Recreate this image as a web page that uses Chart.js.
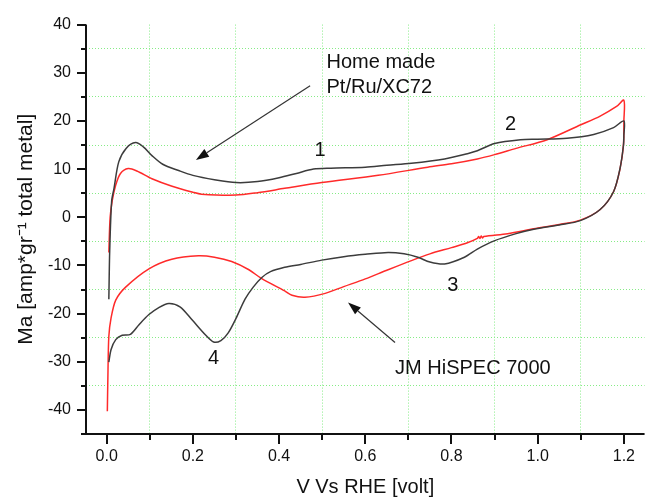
<!DOCTYPE html>
<html>
<head>
<meta charset="utf-8">
<script src="https://cdn.jsdelivr.net/npm/chart.js@4.4.1/dist/chart.umd.min.js"></script>
<style>
html,body{margin:0;padding:0;background:#fff;}
#wrap{width:648px;height:499px;position:relative;}
</style>
</head>
<body>
<div id="wrap"><canvas id="c" width="648" height="499"></canvas></div>
<script>
// ---- Data ----
// Home made Pt/Ru/XC72 (black): anodic sweep then cathodic sweep
const homeMadeV = [0.005,0.007,0.0115,0.017,0.028,0.045,0.067,0.085,0.105,0.13,0.167,0.2,0.25,0.3,0.35,0.4,0.44,0.48,0.52,0.6,0.65,0.707,0.784,0.837,0.86,0.9,0.96,1.0,1.068,1.13,1.176,1.2,
  1.2,1.199,1.191,1.176,1.145,1.099,1.05,0.991,0.95,0.899,0.86,0.83,0.784,0.75,0.722,0.69,0.653,0.6,0.55,0.499,0.45,0.413,0.38,0.36,0.34,0.321,0.3,0.282,0.265,0.248,0.23,0.198,0.17,0.144,0.12,0.098,0.075,0.055,0.036,0.021,0.01,0.005];
const homeMadeI = [-17,-7,3.3,6,11.5,14.3,15.5,14.6,12.8,11.0,9.7,8.7,7.8,7.2,7.4,8.2,9.1,10.0,10.2,10.4,10.8,11.2,12.1,13.2,13.8,15.3,16.1,16.2,16.4,17.2,18.6,20,
  17,14.9,10.1,5.3,1.6,-0.7,-1.6,-2.5,-3.4,-4.9,-6.6,-8.3,-9.7,-9.3,-8.3,-7.6,-7.3,-7.7,-8.2,-8.9,-9.8,-10.4,-11.3,-12.5,-14.5,-17.0,-21,-24,-25.6,-25.9,-24.5,-21.3,-18.6,-17.9,-18.8,-20.2,-22.3,-24.3,-24.5,-25.4,-27.5,-30.1];
// JM HiSPEC 7000 (red)
const jmV = [0.005,0.008,0.013,0.021,0.032,0.05,0.07,0.105,0.15,0.2,0.22,0.3,0.35,0.413,0.499,0.63,0.745,0.8,0.86,0.9,0.95,1.022,1.1,1.145,1.183,1.2,
  1.2,1.199,1.191,1.176,1.145,1.099,1.05,0.991,0.93,0.875,0.872,0.869,0.866,0.863,0.86,0.837,0.8,0.75,0.707,0.65,0.6,0.55,0.507,0.46,0.43,0.413,0.359,0.33,0.29,0.25,0.213,0.151,0.098,0.044,0.021,0.01,0.005,0.003,0.0015];
const jmI = [-7.3,0,3.5,6.7,9.1,10.1,9.6,8.0,6.5,5.2,4.8,4.6,5.1,6.0,7.2,8.7,10.4,11.1,12.1,13.0,14.3,16.1,19.2,21,23,24.3,
  20,15,10,5.3,1.6,-0.6,-1.5,-2.4,-3.4,-4.0,-4.3,-3.9,-4.4,-4.0,-4.4,-5.3,-6.3,-7.6,-9.0,-11,-12.8,-14.4,-15.8,-16.6,-16.2,-15.3,-12.7,-10.9,-9.2,-8.3,-8.0,-8.7,-10.7,-14.5,-17.2,-21,-24.7,-32,-40.3];

// ---- Axis ticks ----
const xTicks = [0,0.1,0.2,0.3,0.4,0.5,0.6,0.7,0.8,0.9,1.0,1.1,1.2];
const xTickLabels = ['0.0','','0.2','','0.4','','0.6','','0.8','','1.0','','1.2'];
const yTicks = [-40,-35,-30,-25,-20,-15,-10,-5,0,5,10,15,20,25,30,35,40];
const yTickLabels = ['-40','','-30','','-20','','-10','','0','','10','','20','','30','','40'];

// ---- Annotations ----
const noteTexts = ['Home made','Pt/Ru/XC72','JM HiSPEC 7000','1','2','3','4'];
const noteX = [0.51,0.51,0.669,0.495,0.937,0.803,0.248];
const noteY = [32.1,27.0,-31.3,13.8,19.3,-14.1,-29.4];
const arrowFromX = [0.472,0.669];
const arrowFromY = [27.3,-26.0];
const arrowToX = [0.207,0.56];
const arrowToY = [11.9,-17.7];

const FONT = '"Liberation Sans", Arial, Helvetica, sans-serif';
const GRID_GREEN = '#86ec86';

function pts(xs, ys){ return xs.map((x,i)=>({x:x,y:ys[i]})); }
function isMajorX(v){ return Math.round(v*10)%2===0; }
function isMajorY(v){ return Math.round(v)%10===0; }

const decor = {
  id:'decor',
  afterDatasetsDraw(chart){
    const ctx = chart.ctx, xs = chart.scales.x, ys = chart.scales.y, a = chart.chartArea;
    ctx.save();
    ctx.strokeStyle = '#111';
    ctx.lineWidth = 2;
    ctx.beginPath();
    ctx.moveTo(a.left, a.top);
    ctx.lineTo(a.left, a.bottom);
    ctx.moveTo(a.left-5, a.bottom);
    ctx.lineTo(a.right, a.bottom);
    ctx.stroke();
    ctx.beginPath();
    xTicks.forEach(v=>{
      const px = Math.round(xs.getPixelForValue(v));
      const len = isMajorX(v) ? 10 : 6;
      ctx.moveTo(px, a.bottom);
      ctx.lineTo(px, a.bottom+len);
    });
    yTicks.forEach(v=>{
      const py = Math.round(ys.getPixelForValue(v));
      const len = isMajorY(v) ? 9 : 5;
      ctx.moveTo(a.left, py);
      ctx.lineTo(a.left-len, py);
    });
    ctx.stroke();
    ctx.restore();
  },
  afterDraw(chart){
    const ctx = chart.ctx, xs = chart.scales.x, ys = chart.scales.y;
    ctx.save();
    ctx.strokeStyle = '#333';
    ctx.fillStyle = '#111';
    ctx.lineWidth = 1.2;
    arrowFromX.forEach((fx,i)=>{
      const x1 = xs.getPixelForValue(fx), y1 = ys.getPixelForValue(arrowFromY[i]);
      const x2 = xs.getPixelForValue(arrowToX[i]), y2 = ys.getPixelForValue(arrowToY[i]);
      const ang = Math.atan2(y2-y1, x2-x1);
      const hl = 13, hw = 4.5;
      const bx = x2 - hl*Math.cos(ang), by = y2 - hl*Math.sin(ang);
      ctx.beginPath();
      ctx.moveTo(x1,y1); ctx.lineTo(bx,by); ctx.stroke();
      ctx.beginPath();
      ctx.moveTo(x2,y2);
      ctx.lineTo(bx + hw*Math.sin(ang), by - hw*Math.cos(ang));
      ctx.lineTo(bx - hw*Math.sin(ang), by + hw*Math.cos(ang));
      ctx.closePath(); ctx.fill();
    });
    ctx.fillStyle = '#111';
    ctx.font = '20px ' + FONT;
    ctx.textBaseline = 'middle';
    noteTexts.forEach((t,i)=>{
      ctx.textAlign = t.length === 1 ? 'center' : 'left';
      ctx.fillText(t, xs.getPixelForValue(noteX[i]), ys.getPixelForValue(noteY[i]));
    });
    ctx.restore();
  }
};

new Chart(document.getElementById('c'), {
  type:'scatter',
  data:{
    datasets:[
      {label:'Home made Pt/Ru/XC72', data:pts(homeMadeV, homeMadeI), showLine:true, borderColor:'#3c3c3c', backgroundColor:'#3c3c3c', borderWidth:1.5, pointRadius:0, tension:0.3, fill:false},
      {label:'JM HiSPEC 7000', data:pts(jmV, jmI), showLine:true, borderColor:'#ff2a2a', backgroundColor:'#ff2a2a', borderWidth:1.5, pointRadius:0, tension:0.3, fill:false}
    ]
  },
  options:{
    responsive:false,
    animation:false,
    devicePixelRatio:1,
    layout:{padding:{top:19,left:0,right:0,bottom:0}},
    plugins:{legend:{display:false}, tooltip:{enabled:false}},
    scales:{
      x:{
        type:'linear', min:-0.048, max:1.248,
        afterBuildTicks(s){ s.ticks = xTicks.map(v=>({value:v})); },
        afterFit(s){ s.height = 65; },
        ticks:{autoSkip:false, maxRotation:0, minRotation:0, padding:13, color:'#111',
          font:{size:16, family:FONT},
          callback(v){ const k = xTicks.findIndex(t=>Math.abs(t-v)<1e-6); return k>=0 ? xTickLabels[k] : ''; }},
        grid:{drawTicks:false, lineWidth:1,
          color(c){ return (c.tick && !isMajorX(c.tick.value)) ? GRID_GREEN : 'rgba(0,0,0,0)'; }},
        border:{display:false, dash:[1,2]},
        title:{display:true, text:'V Vs RHE [volt]', color:'#111', font:{size:20, family:FONT}, padding:{top:0,bottom:0}}
      },
      y:{
        type:'linear', min:-45, max:40,
        afterBuildTicks(s){ s.ticks = yTicks.map(v=>({value:v})); },
        afterFit(s){ s.width = 86; },
        ticks:{autoSkip:false, padding:15, color:'#111',
          font:{size:16, family:FONT},
          callback(v){ const k = yTicks.findIndex(t=>Math.abs(t-v)<1e-6); return k>=0 ? yTickLabels[k] : ''; }},
        grid:{drawTicks:false, lineWidth:1,
          color(c){ return (c.tick && !isMajorY(c.tick.value)) ? GRID_GREEN : 'rgba(0,0,0,0)'; }},
        border:{display:false, dash:[1,2]},
        title:{display:true, text:'Ma [amp*gr\u207B\u00B9 total metal]', color:'#111', font:{size:21, family:FONT}, padding:{top:14,bottom:0}}
      }
    }
  },
  plugins:[decor]
});
</script>
</body>
</html>
